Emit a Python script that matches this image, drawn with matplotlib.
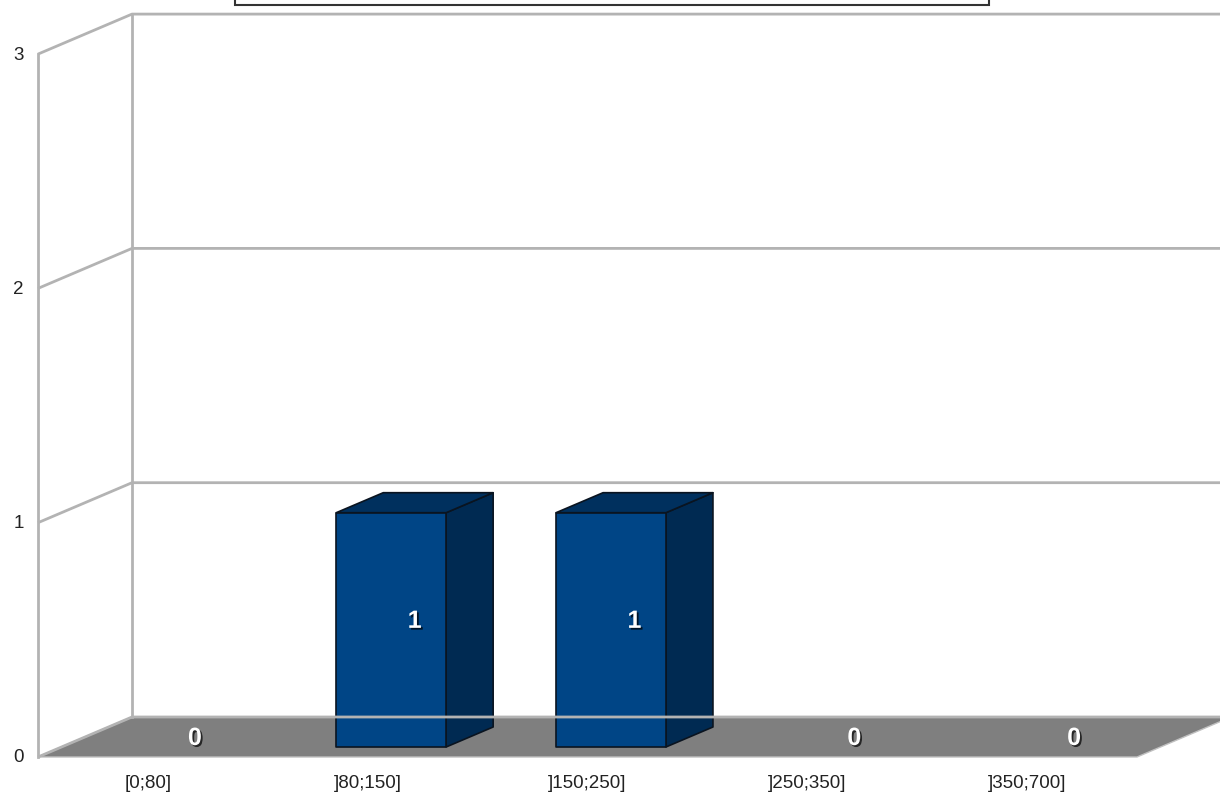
import matplotlib.pyplot as plt
from matplotlib.patches import Polygon, Rectangle
import matplotlib.patheffects as pe

plt.rcParams['font.family'] = ['Liberation Sans', 'DejaVu Sans']

categories = ["[0;80]", "]80;150]", "]150;250]", "]250;350]", "]350;700]"]
counts = [0, 1, 1, 0, 0]
y_ticks = [0, 1, 2, 3]

W, H = 1220, 798
fig = plt.figure(figsize=(W / 100, H / 100), dpi=100)
ax = fig.add_axes([0, 0, 1, 1])
ax.set_xlim(0, W)
ax.set_ylim(H, 0)
ax.axis('off')

# simple oblique projection: category position, count, depth (0 = front, 1 = back)
X0, Y0 = 38, 757
SLOT = 219.8
UNIT = 234.3
DX, DY = 94, -40


def proj(x, v, d):
    return X0 + x * SLOT + d * DX, Y0 - v * UNIT + d * DY


n = len(categories)
grid_col = '#b3b3b3'

# walls and gridlines
for v in y_ticks:
    pts = [proj(0, v, 0), proj(0, v, 1), proj(n, v, 1)]
    ax.plot([p[0] for p in pts], [p[1] for p in pts], color=grid_col, lw=2, solid_capstyle='butt')
for d in (0, 1):
    a, b = proj(0, 0, d), proj(0, max(y_ticks), d)
    ax.plot([a[0], b[0]], [a[1], b[1]], color=grid_col, lw=2)

# floor
floor = [proj(0, 0, 0), proj(0, 0, 1), proj(n, 0, 1), proj(n, 0, 0)]
ax.add_patch(Polygon(floor, closed=True, facecolor='#7f7f7f', edgecolor='#c0c0c0', lw=1))

# bars
front_c, side_c, top_c = '#004586', '#002a52', '#00305e'
for i, c in enumerate(counts):
    xl, xr = i + 0.25, i + 0.75
    if c > 0:
        front = [proj(xl, 0, .25), proj(xr, 0, .25), proj(xr, c, .25), proj(xl, c, .25)]
        side = [proj(xr, 0, .25), proj(xr, 0, .75), proj(xr, c, .75), proj(xr, c, .25)]
        top = [proj(xl, c, .25), proj(xr, c, .25), proj(xr, c, .75), proj(xl, c, .75)]
        for poly, col in ((side, side_c), (top, top_c), (front, front_c)):
            ax.add_patch(Polygon(poly, closed=True, facecolor=col, edgecolor='#0a1420', lw=1.2,
                                 joinstyle='round'))

# value labels at the centre of each bar
shadow = [pe.SimplePatchShadow(offset=(1.3, -1.3), shadow_rgbFace='black', alpha=0.7), pe.Normal()]
for i, c in enumerate(counts):
    x, y = proj(i + 0.5, c / 2, 0.5)
    ax.text(x, y + 1, str(c), color='white', fontsize=18, fontweight='bold',
            ha='center', va='center', path_effects=shadow)

# category labels
for i, lab in enumerate(categories):
    x, y = proj(i + 0.5, 0, 0)
    ax.text(x, y + 27, lab, fontsize=13.5, ha='center', va='center', color='#222222')

# count axis labels
for v in y_ticks:
    x, y = proj(0, v, 0)
    ax.text(x - 14, y + 1, str(v), fontsize=13.5, ha='right', va='center', color='#222222')

# title frame cut at the top edge
ax.add_patch(Rectangle((235, -20), 754, 25, facecolor='none', edgecolor='#333333', lw=1.5))

fig.savefig('out.png', dpi=100)
